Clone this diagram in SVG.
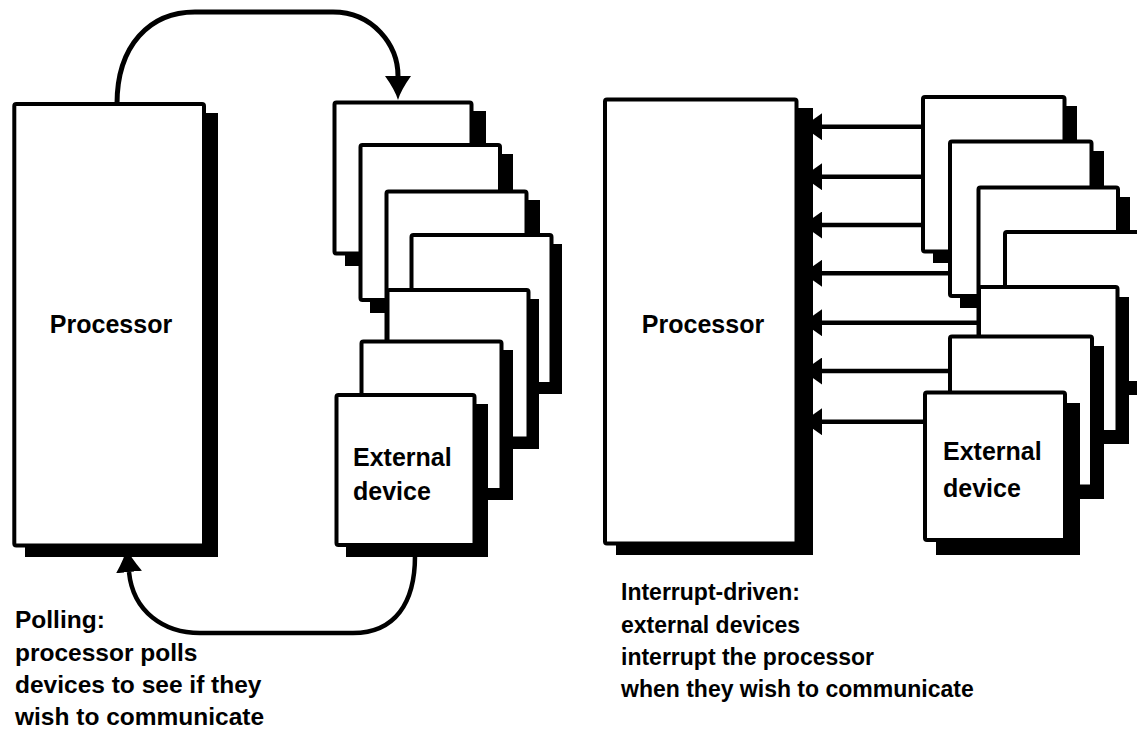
<svg xmlns="http://www.w3.org/2000/svg" width="1137" height="731" viewBox="0 0 1137 731">
  <style>
    .frame { fill: #fff; stroke: #000; stroke-width: 4; stroke-linejoin: round; }
    .shadow { fill: #000; }
    .wire { fill: none; stroke: #000; stroke-linecap: butt; }
    .loop { stroke-width: 5; }
    .irq { stroke-width: 4.5; }
    .lbl { font-family: "Liberation Sans", Arial, Helvetica, sans-serif; font-weight: bold; font-size: 25px; fill: #000; }
    .cap { font-family: "Liberation Sans", Arial, Helvetica, sans-serif; font-weight: bold; fill: #000; }
  </style>
  <defs>
    <marker id="pollHead" markerUnits="userSpaceOnUse" viewBox="0 0 24 26" refX="0" refY="13" markerWidth="24" markerHeight="26" orient="auto">
      <path d="M0,0 Q14,10 24,13 Q14,16 0,26 Z" fill="#000"/>
    </marker>
    <marker id="irqHead" markerUnits="userSpaceOnUse" viewBox="0 0 19 27" refX="0" refY="13.5" markerWidth="19" markerHeight="27" orient="auto">
      <path d="M0,0 L19,13.5 L0,27 Z" fill="#000"/>
    </marker>
  </defs>

  <rect width="1137" height="731" fill="#fff"/>

  <!-- connectors -->
  <g id="connectors">
    <!-- polling: processor to devices, devices back to processor -->
    <path class="wire loop" d="M117,104 C117,45 150,12 195,12 L333,12 C373,12 398,45 398,76" marker-end="url(#pollHead)"/>
    <path class="wire loop" d="M415,556 C415,603 395,633 353,633 L200,633 C164,633 133,612 129,572" style="stroke-width:4.5" marker-end="url(#pollHead)"/>
    <!-- interrupt lines: devices to processor -->
    <path class="wire irq" d="M923,126.7 H822" marker-end="url(#irqHead)"/>
    <path class="wire irq" d="M923,176.7 H822" marker-end="url(#irqHead)"/>
    <path class="wire irq" d="M923,225 H822" marker-end="url(#irqHead)"/>
    <path class="wire irq" d="M950,273.3 H822" marker-end="url(#irqHead)"/>
    <path class="wire irq" d="M979,322.7 H822" marker-end="url(#irqHead)"/>
    <path class="wire irq" d="M950,371 H822" marker-end="url(#irqHead)"/>
    <path class="wire irq" d="M925,421.7 H822" marker-end="url(#irqHead)"/>
  </g>

  <!-- polling side -->
  <g id="poll-processor">
    <rect class="shadow" x="25" y="113" width="193" height="444"/>
    <rect class="frame" x="14.3" y="104" width="189.7" height="441.5" rx="2"/>
    <text class="lbl" x="111" y="333" text-anchor="middle">Processor</text>
  </g>
  <g id="poll-device-1">
    <rect class="shadow" x="345" y="111" width="141" height="155"/>
    <rect class="frame" x="334.5" y="102.5" width="137" height="151" rx="2"/>
  </g>
  <g id="poll-device-2">
    <rect class="shadow" x="370" y="154" width="143" height="159"/>
    <rect class="frame" x="360.5" y="145" width="139.5" height="155" rx="2"/>
  </g>
  <g id="poll-device-3">
    <rect class="shadow" x="396" y="200" width="144" height="154"/>
    <rect class="frame" x="386.5" y="191.5" width="140" height="150" rx="2"/>
  </g>
  <g id="poll-device-4">
    <rect class="shadow" x="421" y="244" width="141" height="150"/>
    <rect class="frame" x="411.5" y="235" width="140" height="149" rx="2"/>
  </g>
  <g id="poll-device-5">
    <rect class="shadow" x="397" y="299" width="142" height="150"/>
    <rect class="frame" x="387.5" y="290" width="141" height="148.5" rx="2"/>
  </g>
  <g id="poll-device-6">
    <rect class="shadow" x="371" y="350" width="142" height="150"/>
    <rect class="frame" x="361.5" y="341.5" width="140" height="148.5" rx="2"/>
  </g>
  <g id="poll-device-7">
    <rect class="shadow" x="346" y="404" width="142" height="153"/>
    <rect class="frame" x="336.5" y="395" width="138" height="150" rx="2"/>
    <text class="lbl" x="353" y="466">External</text>
    <text class="lbl" x="353" y="500">device</text>
  </g>

  <g id="poll-caption">
    <text class="cap" font-size="24.5" x="15" y="628">Polling:</text>
    <text class="cap" font-size="24.5" x="15" y="661">processor polls</text>
    <text class="cap" font-size="24.5" x="15" y="693">devices to see if they</text>
    <text class="cap" font-size="24.5" x="15" y="725">wish to communicate</text>
  </g>

  <!-- interrupt side -->
  <g id="irq-processor">
    <rect class="shadow" x="616" y="108" width="197" height="447"/>
    <rect class="frame" x="605" y="99.5" width="191.5" height="444" rx="2"/>
    <text class="lbl" x="703" y="333" text-anchor="middle">Processor</text>
  </g>
  <g id="irq-device-1">
    <rect class="shadow" x="933" y="106" width="144" height="157"/>
    <rect class="frame" x="923" y="97" width="141.5" height="154.5" rx="2"/>
  </g>
  <g id="irq-device-2">
    <rect class="shadow" x="960" y="151" width="144" height="157"/>
    <rect class="frame" x="950" y="141.5" width="141.5" height="154.5" rx="2"/>
  </g>
  <g id="irq-device-3">
    <rect class="shadow" x="988" y="197" width="142" height="153"/>
    <rect class="frame" x="978.5" y="187.5" width="139.5" height="150" rx="2"/>
  </g>
  <g id="irq-device-4">
    <rect class="shadow" x="1015" y="241" width="150" height="154"/>
    <rect class="frame" x="1005" y="232" width="145" height="151" rx="2"/>
  </g>
  <g id="irq-device-5">
    <rect class="shadow" x="989" y="297" width="140" height="147"/>
    <rect class="frame" x="979" y="287" width="138.5" height="145" rx="2"/>
  </g>
  <g id="irq-device-6">
    <rect class="shadow" x="960" y="346" width="144" height="153"/>
    <rect class="frame" x="950" y="336.5" width="142" height="150" rx="2"/>
  </g>
  <g id="irq-device-7">
    <rect class="shadow" x="936" y="403" width="144" height="152"/>
    <rect class="frame" x="925" y="392.5" width="140" height="147.5" rx="2"/>
    <text class="lbl" x="943" y="460">External</text>
    <text class="lbl" x="943" y="497">device</text>
  </g>

  <g id="irq-caption">
    <text class="cap" font-size="23" x="621" y="600">Interrupt-driven:</text>
    <text class="cap" font-size="23" x="621" y="633">external devices</text>
    <text class="cap" font-size="23" x="621" y="665">interrupt the processor</text>
    <text class="cap" font-size="23" x="621" y="697">when they wish to communicate</text>
  </g>
</svg>
